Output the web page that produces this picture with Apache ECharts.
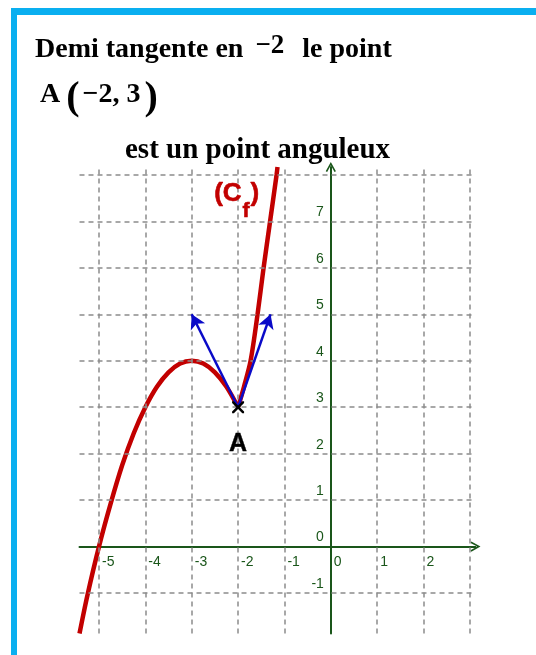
<!DOCTYPE html>
<html>
<head>
<meta charset="utf-8">
<script src="https://cdn.jsdelivr.net/npm/echarts@6/dist/echarts.min.js"></script>
<style>
html,body{margin:0;padding:0;background:#fff}
#chart{width:536px;height:655px}
</style>
</head>
<body>
<div id="chart"></div>
<script>
// courbe Cf, branche gauche (x <= -2) et branche droite (x >= -2)
var leftX = [-5.42,-5.25,-5,-4.75,-4.5,-4.25,-4,-3.75,-3.5,-3.25,-3,-2.75,-2.5,-2.25,-2];
var leftY = [-1.87,-1.05,0,0.92,1.75,2.44,3,3.44,3.75,3.94,4,3.94,3.75,3.44,3];
var rightX = [-2,-1.87,-1.73,-1.58,-1.45,-1.31,-1.17,-1.15];
var rightY = [3,3.45,4,5,6,7,8,8.17];
// point anguleux A et demi-tangentes
var pointA = [-2,3];
var tipLeft = [-3,5];
var tipRight = [-1.3,5];
var cfPos = [-2.03,7.59];
// quadrillage et graduations
var gridX = [-5,-4,-3,-2,-1,1,2,3];
var gridY = [-1,1,2,3,4,5,6,7,8];
var xLabels = [-5,-4,-3,-2,-1,0,1,2];
var yLabels = [-1,0,1,2,3,4,5,6,7];

function zip(a,b){
    var out = [];
    for(var i=0;i<a.length;i++){
        out.push([a[i],b[i]]);
    }
    return out;
}

var green = '#1a561a';
var red = '#c20000';
var chevron = 'path://M0,9 L5,0 L10,9 L8.6,9.8 L5,3.2 L1.4,9.8 Z';
var cross = 'path://M0,0 L3,0 L10,7 L17,0 L20,0 L20,3 L13,10 L20,17 L20,20 L17,20 L10,13 L3,20 L0,20 L0,17 L7,10 L0,3 Z';

var container = echarts.init(document.getElementById('chart'));
var option = {
    animation:false,
    backgroundColor:'#fff',
    title:[
        {
            left:30, top:28,
            text:'{a|Demi tangente en }{b|−2}{a|  le point}',
            textStyle:{
                rich:{
                    a:{fontFamily:'Liberation Serif',fontWeight:'bold',fontSize:28,color:'#000',lineHeight:34},
                    b:{fontFamily:'Liberation Serif',fontSize:27,color:'#000',lineHeight:34,padding:[0,4,8,5]}
                }
            }
        },
        {
            left:35, top:72,
            text:'{a|A}{p|(}{m|−2, 3}{p|)}',
            textStyle:{
                rich:{
                    a:{fontFamily:'Liberation Serif',fontWeight:'bold',fontSize:28,color:'#000',lineHeight:44,padding:[0,6,8,0]},
                    m:{fontFamily:'Liberation Serif',fontWeight:'bold',fontSize:28,color:'#000',lineHeight:44,padding:[0,4,8,3]},
                    p:{fontFamily:'Liberation Serif',fontSize:40,color:'#000',lineHeight:44}
                }
            }
        },
        {
            left:120, top:131,
            text:'est un point anguleux',
            textStyle:{fontFamily:'Liberation Serif',fontWeight:'bold',fontSize:29,color:'#000'}
        }
    ],
    graphic:[
        {type:'rect',shape:{x:11,y:8,width:525,height:7},style:{fill:'#0aaff0'}},
        {type:'rect',shape:{x:11,y:8,width:6,height:647},style:{fill:'#0aaff0'}}
    ],
    grid:{left:79.5,right:60.5,top:167,bottom:21.5},
    xAxis:{
        type:'value',
        min:-5.42,
        max:3.12,
        z:3,
        axisLine:{onZero:true,symbol:['none',chevron],symbolSize:[12,10],lineStyle:{color:green,width:2}},
        axisTick:{show:false},
        splitLine:{show:false},
        axisLabel:{show:false}
    },
    yAxis:{
        type:'value',
        min:-1.87,
        max:8.17,
        z:3,
        axisLine:{onZero:true,symbol:['none',chevron],symbolSize:[12,10],lineStyle:{color:green,width:2}},
        axisTick:{show:false},
        splitLine:{show:false},
        axisLabel:{show:false}
    },
    series:[
        {
            name:'grille',
            type:'line',
            data:[],
            z:1,
            markLine:{
                silent:true,
                symbol:['none','none'],
                label:{show:false},
                lineStyle:{type:[5,4],color:'#8c8c8c',width:1.5},
                data:gridX.map(function(v){return {xAxis:v};}).concat(gridY.map(function(v){return {yAxis:v};}))
            }
        },
        {
            name:'graduations x',
            type:'scatter',
            data:xLabels.map(function(v){return [v,0];}),
            symbolSize:0,
            z:3,
            itemStyle:{opacity:1},
            label:{show:true,position:[3,9],align:'left',verticalAlign:'top',
                formatter:function(p){return String(p.value[0]);},
                color:green,fontSize:14,fontFamily:'Liberation Sans'}
        },
        {
            name:'graduations y',
            type:'scatter',
            data:yLabels.map(function(v){return [0,v];}),
            symbolSize:0,
            z:3,
            itemStyle:{opacity:1},
            label:{show:true,position:[-7,-2],align:'right',verticalAlign:'bottom',
                formatter:function(p){return String(p.value[1]);},
                color:green,fontSize:14,fontFamily:'Liberation Sans'}
        },
        {
            name:'Cf gauche',
            type:'line',
            data:zip(leftX,leftY),
            showSymbol:false,
            smooth:0.3,
            z:4,
            lineStyle:{color:red,width:4.5}
        },
        {
            name:'Cf droite',
            type:'line',
            data:zip(rightX,rightY),
            showSymbol:false,
            smooth:0.3,
            z:4,
            lineStyle:{color:red,width:4.5}
        },
        {
            name:'demi-tangentes',
            type:'line',
            data:[],
            z:5,
            markLine:{
                silent:true,
                symbol:['none','arrow'],
                symbolSize:[12,14],
                label:{show:false},
                lineStyle:{type:'solid',color:'#0a0ac8',width:2.5},
                itemStyle:{color:'#0a0ac8'},
                data:[
                    [{coord:pointA},{coord:tipLeft}],
                    [{coord:pointA},{coord:tipRight}]
                ]
            }
        },
        {
            name:'A',
            type:'scatter',
            data:[pointA],
            symbol:cross,
            symbolSize:12,
            z:6,
            itemStyle:{color:'#000',opacity:1},
            label:{show:true,position:'bottom',distance:18,formatter:'A',color:'#000',fontSize:25,fontWeight:'bold',fontFamily:'Liberation Sans',textBorderColor:'#000',textBorderWidth:0.4}
        },
        {
            name:'Cf',
            type:'scatter',
            data:[cfPos],
            symbolSize:0,
            z:6,
            itemStyle:{opacity:1},
            label:{
                show:true,
                position:'inside',
                formatter:'{p|(C}{s|f}{p|)}',
                rich:{
                    p:{color:red,fontSize:26,fontWeight:'bold',fontFamily:'Liberation Sans',lineHeight:30,textBorderColor:red,textBorderWidth:0.6},
                    s:{color:red,fontSize:21,fontWeight:'bold',fontFamily:'Liberation Sans',lineHeight:30,padding:[34,1,0,1],textBorderColor:red,textBorderWidth:0.6}
                }
            }
        }
    ]
};
container.setOption(option);
</script>
</body>
</html>
